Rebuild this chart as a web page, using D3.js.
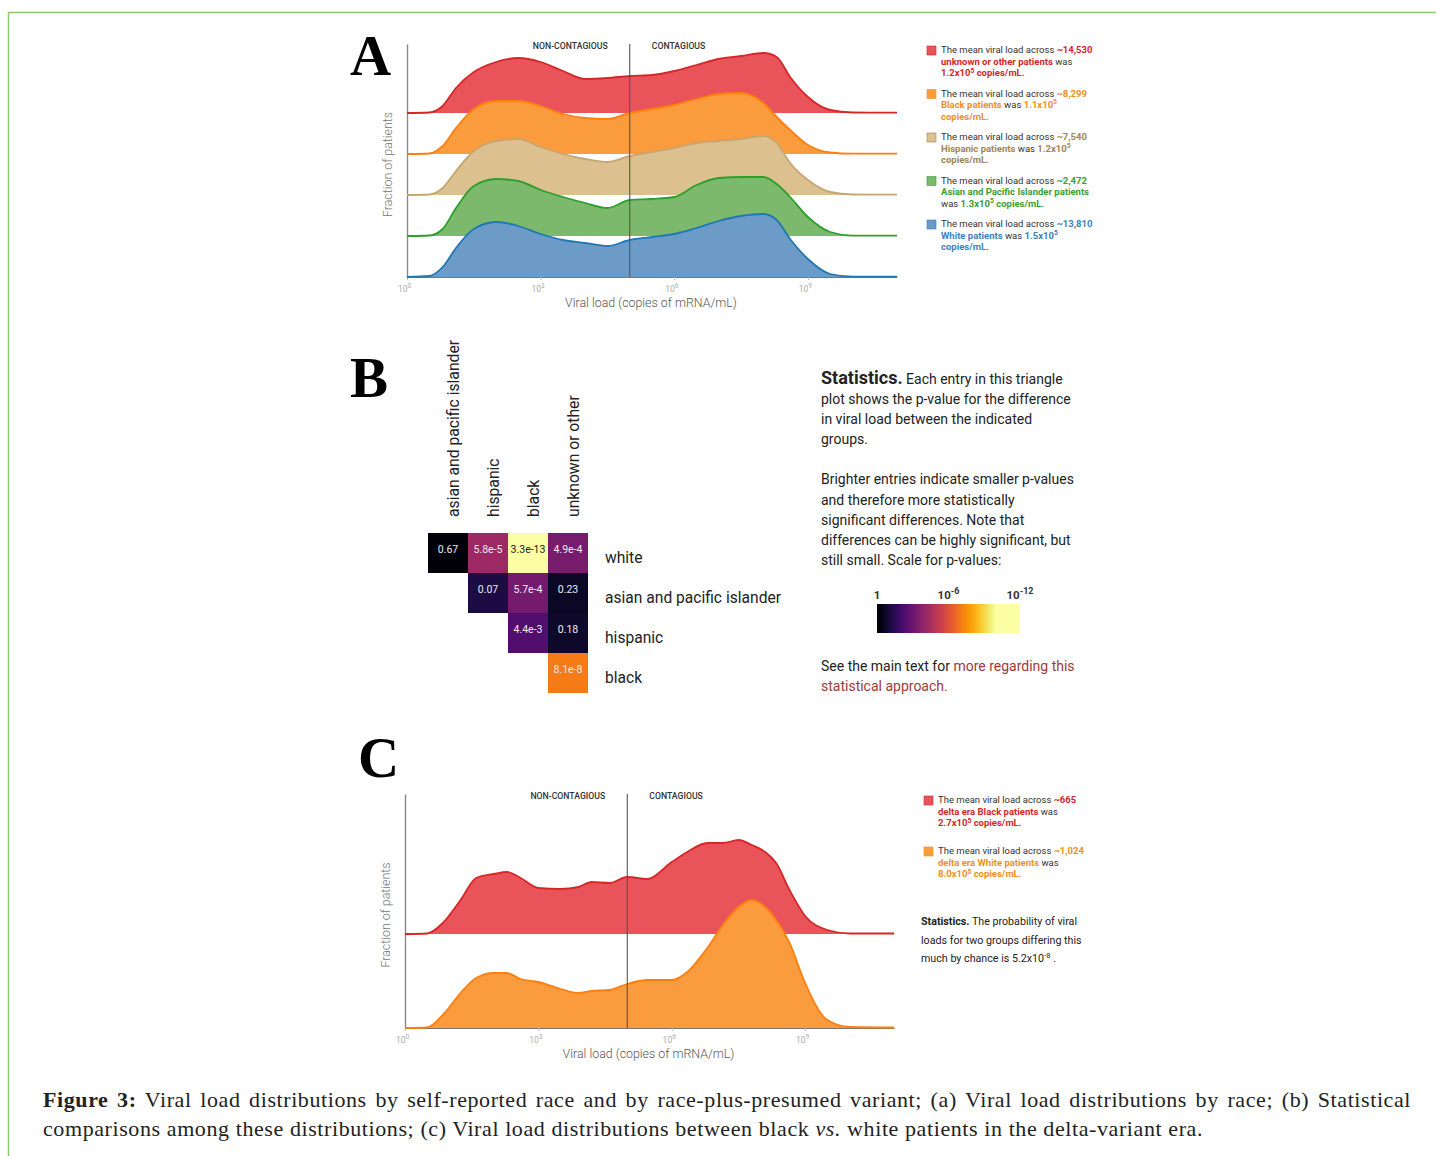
<!DOCTYPE html>
<html>
<head>
<meta charset="utf-8">
<script src="https://cdn.jsdelivr.net/npm/d3@7/dist/d3.min.js"></script>
<style>
body { margin: 0; background: #fff; }
svg text { font-family: Roboto, "Noto Sans", sans-serif; }
</style>
</head>
<body>
<script>
// ---------- data ----------
// panel A : density of log10(viral load), arbitrary units
var gridA = [0, 0.5, 0.8, 1.1, 1.5, 2, 2.5, 3, 3.5, 4, 4.5, 5, 5.5, 6, 6.5, 7, 7.5, 8, 8.3, 8.6, 9, 9.5, 10, 11];
var unknownA  = [0, 0.5, 7, 25, 41, 51, 55, 51, 42, 34, 35, 37, 38, 42, 48, 54, 57, 60, 56, 36, 16, 3, 0.5, 0.3];
var blackA    = [0, 0.5, 8, 26, 45, 53, 53, 48, 40, 36, 35, 41, 45, 49, 55, 60, 61, 51, 37, 24, 9, 1.5, 0.3, 0.3];
var hispanicA = [0, 0.5, 7, 24, 44, 54, 56, 48, 41, 36, 33, 39, 43, 47, 52, 54, 56, 59, 52, 32, 15, 3, 0.5, 0.3];
var asianA    = [0, 0.5, 7, 28, 50, 57, 55, 46, 39, 33, 28, 36, 37, 39, 51, 58, 59, 59, 52, 39, 19, 4, 0.3, 0.3];
var whiteA    = [0, 1, 10, 29, 48, 55, 51, 43, 37, 34, 31, 37, 40, 43, 49, 56, 61, 63, 57, 38, 18, 3, 0.3, 0.3];
var groupsA = ["unknown or other", "black", "hispanic", "asian and pacific islander", "white"];

var legendA = [
  ["The mean viral load across {~14,530}", "{unknown or other patients} was", "{1.2x10^5^ copies/mL.}"],
  ["The mean viral load across {~8,299}", "{Black patients} was {1.1x10^5^}", "{copies/mL.}"],
  ["The mean viral load across {~7,540}", "{Hispanic patients} was {1.2x10^5^}", "{copies/mL.}"],
  ["The mean viral load across {~2,472}", "{Asian and Pacific Islander patients}", "was {1.3x10^5^ copies/mL.}"],
  ["The mean viral load across {~13,810}", "{White patients} was {1.5x10^5^}", "{copies/mL.}"]
];

// panel B : p-values (rows x columns, upper triangle)
var colGroups = ["asian and pacific islander", "hispanic", "black", "unknown or other"];
var rowGroups = ["white", "asian and pacific islander", "hispanic", "black"];
var pValues = [
  [0.67, 5.8e-5, 3.3e-13, 4.9e-4],
  [null, 0.07, 5.7e-4, 0.23],
  [null, null, 4.4e-3, 0.18],
  [null, null, null, 8.1e-8]
];
var scaleTicks = [0, 6, 12];   // -log10(p)

var statsB = [
  "plot shows the p-value for the difference",
  "in viral load between the indicated",
  "groups.",
  "",
  "Brighter entries indicate smaller p-values",
  "and therefore more statistically",
  "significant differences. Note that",
  "differences can be highly significant, but",
  "still small. Scale for p-values:"
];

// panel C
var gridC = [0, 0.5, 0.85, 1.25, 1.6, 2, 2.3, 2.6, 3, 3.5, 3.9, 4.2, 4.6, 5, 5.45, 6, 6.35, 6.8, 7.15, 7.5, 7.8, 8.1, 8.35, 8.65, 9, 9.5, 10, 11];
var blackC = [0, 0.5, 11, 34, 56, 60, 62, 56, 46, 45, 47, 52, 51, 57, 55, 72, 82, 91, 91, 94, 89, 82, 71, 44, 18, 4, 0.5, 0.5];
var whiteC = [0, 0.5, 13, 35, 50, 55, 55, 49, 46, 39, 35, 37, 38, 44, 48, 48, 56, 80, 103, 121, 128, 121, 108, 85, 45, 8, 1, 0.5];
var groupsC = ["delta era black", "delta era white"];

var legendC = [
  ["The mean viral load across {~665}", "{delta era Black patients} was", "{2.7x10^5^ copies/mL.}"],
  ["The mean viral load across {~1,024}", "{delta era White patients} was", "{8.0x10^5^ copies/mL.}"]
];
var statsC = ["The probability of viral", "loads for two groups differing this", "much by chance is 5.2x10^-8^ ."];

var captionLead = "Figure 3:";
var captionLine1 = "Viral load distributions by self-reported race and by race-plus-presumed variant; (a) Viral load distributions by race; (b) Statistical";
var captionLine2a = "comparisons among these distributions; (c) Viral load distributions between black ";
var captionLine2b = "vs.";
var captionLine2c = " white patients in the delta-variant era.";

// ---------- drawing ----------
var W = 1436, H = 1156;
var svg = d3.select("body").append("svg").attr("width", W).attr("height", H);

svg.append("path").attr("d", "M8.5,1160V12.5H1440")
  .attr("fill", "none").attr("stroke", "#8cc877").attr("stroke-width", 1.5);

// text with {coloured bold} parts and ^superscript^ parts
function richLine(sel, str, color, size, baseColor) {
  var colored = false, shift = 0;
  str.split(/([{}])/).forEach(function(part) {
    if (part === "{") { colored = true; return; }
    if (part === "}") { colored = false; return; }
    part.split(/\^([^\^]*)\^/).forEach(function(s, i) {
      if (!s) return;
      var sup = i % 2 === 1;
      var t = sel.append("tspan").text(s)
        .attr("fill", colored ? color : (baseColor || "#333"))
        .attr("font-weight", colored ? 700 : 400);
      var want = sup ? -size * 0.4 : 0;
      if (want !== shift) { t.attr("dy", want - shift); shift = want; }
      if (sup) t.attr("font-size", size * 0.72);
    });
  });
}

function ridgeChart(o) {
  var x = d3.scaleLinear().domain([0, 11]).range([o.left, o.right]);
  var base = d3.scalePoint().domain(o.names).range([o.firstBase, o.lastBase]);
  var h = d3.scaleLinear().domain([0, 100]).range([0, 100]);
  var y = d3.scaleLinear().domain([0, 1]).range([o.lastBase, o.top]);

  // axes
  var xa = svg.append("g").attr("transform", "translate(0," + o.lastBase + ")")
    .call(d3.axisBottom(x).tickValues([0, 3, 6, 9]).tickSize(3).tickSizeOuter(0).tickFormat(""));
  xa.select(".domain").attr("stroke", "#777").attr("stroke-width", 1.2);
  xa.selectAll(".tick line").attr("stroke", "#bbb");
  xa.selectAll(".tick").append("text")
    .attr("y", 15).attr("x", -3).attr("text-anchor", "middle")
    .attr("fill", "#aaa").attr("font-size", 8.5)
    .each(function(d) {
      var t = d3.select(this);
      t.append("tspan").text("10");
      t.append("tspan").text(d).attr("dy", -4).attr("font-size", 6.5);
    });
  var ya = svg.append("g").attr("transform", "translate(" + o.left + ",0)")
    .call(d3.axisLeft(y).tickValues([]).tickSizeOuter(0));
  ya.select(".domain").attr("stroke", "#888").attr("stroke-width", 1.4);

  svg.append("text").attr("x", (o.left + o.right) / 2 - 1).attr("y", o.lastBase + 30)
    .attr("text-anchor", "middle").attr("font-size", 12.4).attr("font-weight", 300).attr("fill", "#555")
    .text("Viral load (copies of mRNA/mL)");
  svg.append("text")
    .attr("transform", "translate(" + (o.left - 15) + "," + ((o.top + o.lastBase) / 2 + 4) + ") rotate(-90)")
    .attr("text-anchor", "middle").attr("font-size", 12.4).attr("font-weight", 300).attr("fill", "#777")
    .text("Fraction of patients");

  // ridges
  o.series.forEach(function(vals, i) {
    var b = base(o.names[i]);
    var pts = o.grid.map(function(v, j) { return [v, vals[j]]; });
    var area = d3.area().x(function(d) { return x(d[0]); }).y0(b)
      .y1(function(d) { return b - h(d[1]) * o.scale; }).curve(d3.curveMonotoneX);
    var line = d3.line().x(function(d) { return x(d[0]); })
      .y(function(d) { return b - h(d[1]) * o.scale; }).curve(d3.curveMonotoneX);
    svg.append("path").attr("d", area(pts)).attr("fill", o.fills[i]);
    svg.append("path").attr("d", line(pts)).attr("fill", "none")
      .attr("stroke", o.strokes[i]).attr("stroke-width", 1.8);
  });

  // contagious threshold at 10^5
  svg.append("line").attr("x1", x(5)).attr("x2", x(5)).attr("y1", o.top).attr("y2", o.lastBase)
    .attr("stroke", "#555").attr("stroke-width", 1.1);
  svg.append("text").attr("x", x(5) - 22).attr("y", o.top + 5).attr("text-anchor", "end")
    .attr("font-size", 8.7).attr("font-weight", 500).attr("fill", "#333").text("NON-CONTAGIOUS");
  svg.append("text").attr("x", x(5) + 22).attr("y", o.top + 5)
    .attr("font-size", 8.7).attr("font-weight", 500).attr("fill", "#333").text("CONTAGIOUS");
}

function legend(entries, colors, fills, x, y0, step) {
  entries.forEach(function(lines, i) {
    var yy = y0 + i * step;
    svg.append("rect").attr("x", x).attr("y", yy - 7).attr("width", 9).attr("height", 9)
      .attr("fill", fills[i]).attr("stroke", colors[i]).attr("stroke-width", 0.6);
    lines.forEach(function(l, k) {
      var t = svg.append("text").attr("x", x + 14).attr("y", yy + k * 11.7).attr("font-size", 9.5);
      richLine(t, l, colors[i], 9.5);
    });
  });
}

function letter(ch, x, y) {
  svg.append("text").attr("x", x).attr("y", y).text(ch)
    .style("font-family", "'Liberation Serif', serif").attr("font-size", 57).attr("font-weight", 700).attr("fill", "#000");
}

// ----- panel A -----
var fillsA = ["#e8545a", "#fa9c3d", "#dcc08f", "#7db96c", "#6c9bc8"];
var strokesA = ["#d62728", "#ff7f0e", "#c9a56e", "#2ca02c", "#1f77b4"];
var textA = ["#d62728", "#f0901e", "#a08555", "#3a9e36", "#3c82bd"];
letter("A", 350, 75);
ridgeChart({ left: 407, right: 897, top: 44, firstBase: 113, lastBase: 277, scale: 1,
  grid: gridA, series: [unknownA, blackA, hispanicA, asianA, whiteA], names: groupsA,
  fills: fillsA, strokes: strokesA });
legend(legendA, textA, fillsA, 927, 53, 43.5);

// ----- panel B -----
letter("B", 350, 397);
var cx = d3.scaleBand().domain(colGroups).range([428, 588]);
var cy = d3.scaleBand().domain(rowGroups).range([533, 693]);
var neglog = function(p) { return -Math.log10(p); };
var heat = d3.scaleSequential(d3.interpolateInferno).domain([0, 10]).clamp(true);
var fmt = function(p) { return p < 0.01 ? d3.format(".1e")(p) : d3.format(".2")(p); };
var cells = [];
pValues.forEach(function(row, i) {
  row.forEach(function(p, j) { if (p !== null) cells.push({ r: rowGroups[i], c: colGroups[j], p: p }); });
});
svg.selectAll("rect.cell").data(cells).enter().append("rect").attr("class", "cell")
  .attr("x", function(d) { return cx(d.c); }).attr("y", function(d) { return cy(d.r); })
  .attr("width", cx.bandwidth()).attr("height", cy.bandwidth())
  .attr("fill", function(d) { return heat(neglog(d.p)); });
svg.selectAll("text.cellv").data(cells).enter().append("text").attr("class", "cellv")
  .attr("x", function(d) { return cx(d.c) + cx.bandwidth() / 2; })
  .attr("y", function(d) { return cy(d.r) + 20; })
  .attr("text-anchor", "middle").attr("font-size", 10.5)
  .attr("fill", function(d) { return neglog(d.p) / 10 > 0.85 ? "#222" : "#f2e8ee"; })
  .text(function(d) { return fmt(d.p); });
svg.selectAll("text.collab").data(colGroups).enter().append("text").attr("class", "collab")
  .attr("transform", function(d) { return "translate(" + (cx(d) + cx.bandwidth() / 2 + 11) + ",517) rotate(-90)"; })
  .attr("font-size", 15.7).attr("fill", "#222").text(function(d) { return d; });
svg.selectAll("text.rowlab").data(rowGroups).enter().append("text").attr("class", "rowlab")
  .attr("x", 605).attr("y", function(d) { return cy(d) + 30; })
  .attr("font-size", 15.6).attr("fill", "#222").text(function(d) { return d; });

var st = svg.append("text").attr("x", 821).attr("y", 384).attr("fill", "#222");
st.append("tspan").attr("font-size", 18).attr("font-weight", 700).text("Statistics.");
st.append("tspan").attr("font-size", 14).text("  Each entry in this triangle");
statsB.forEach(function(l, i) {
  svg.append("text").attr("x", 821).attr("y", 404 + i * 20.1).attr("font-size", 14).attr("fill", "#222").text(l);
});

// colour scale bar
var bx = d3.scaleLinear().domain([0, 12]).range([877, 1020]);
var grad = svg.append("defs").append("linearGradient").attr("id", "pgrad");
d3.range(0, 12.01, 0.5).forEach(function(v) {
  grad.append("stop").attr("offset", (v / 12 * 100) + "%").attr("stop-color", heat(v));
});
svg.append("rect").attr("x", bx(0)).attr("y", 604).attr("width", bx(12) - bx(0)).attr("height", 29)
  .attr("fill", "url(#pgrad)");
svg.selectAll("text.sc").data(scaleTicks).enter().append("text").attr("class", "sc")
  .attr("x", function(d) { return bx(d); }).attr("y", 599).attr("text-anchor", "middle")
  .attr("font-size", 11.5).attr("font-weight", 700).attr("fill", "#333")
  .each(function(d) {
    var t = d3.select(this);
    if (d === 0) { t.text("1"); return; }
    t.append("tspan").text("10");
    t.append("tspan").text("-" + d).attr("dy", -5).attr("font-size", 9);
  });
var see = svg.append("text").attr("x", 821).attr("y", 671).attr("font-size", 14).attr("fill", "#222");
see.append("tspan").text("See the main text for ");
see.append("tspan").attr("fill", "#a0393b").text("more regarding this");
svg.append("text").attr("x", 821).attr("y", 691).attr("font-size", 14).attr("fill", "#a0393b")
  .text("statistical approach.");

// ----- panel C -----
letter("C", 358, 777);
ridgeChart({ left: 405, right: 894, top: 794, firstBase: 934, lastBase: 1028, scale: 1,
  grid: gridC, series: [blackC, whiteC], names: groupsC,
  fills: [fillsA[0], fillsA[1]], strokes: [strokesA[0], strokesA[1]] });
legend(legendC, [textA[0], textA[1]], [fillsA[0], fillsA[1]], 924, 803, 51);
var sc = svg.append("text").attr("x", 921).attr("y", 925).attr("font-size", 10.7).attr("fill", "#222");
sc.append("tspan").attr("font-weight", 700).text("Statistics.");
sc.append("tspan").text(" " + statsC[0]);
statsC.slice(1).forEach(function(l, i) {
  var t = svg.append("text").attr("x", 921).attr("y", 943.5 + i * 18.5).attr("font-size", 10.7);
  richLine(t, l, "#222", 10.7, "#222");
});

// ----- caption -----
var capFont = function(t) {
  return t.attr("font-size", 22).attr("fill", "#222").style("font-family", "'Liberation Serif', serif");
};
var cap2 = capFont(svg.append("text").attr("x", 43).attr("y", 1136));
cap2.append("tspan").text(captionLine2a);
cap2.append("tspan").attr("font-style", "italic").text(captionLine2b);
cap2.append("tspan").text(captionLine2c);
var line2Text = captionLine2a + captionLine2b + captionLine2c;
var ls = (1203 - 43 - cap2.node().getComputedTextLength()) / line2Text.length;
cap2.attr("letter-spacing", ls);

var cap1 = capFont(svg.append("text").attr("x", 43).attr("y", 1107)).attr("letter-spacing", ls);
cap1.append("tspan").attr("font-weight", 700).text(captionLead);
cap1.append("tspan").text(" " + captionLine1);
var natural = cap1.node().getComputedTextLength();
var nSpaces = (captionLead + " " + captionLine1).split(" ").length - 1;
cap1.attr("word-spacing", Math.max(0, (1411 - 43 - natural) / nSpaces));
</script>
</body>
</html>
